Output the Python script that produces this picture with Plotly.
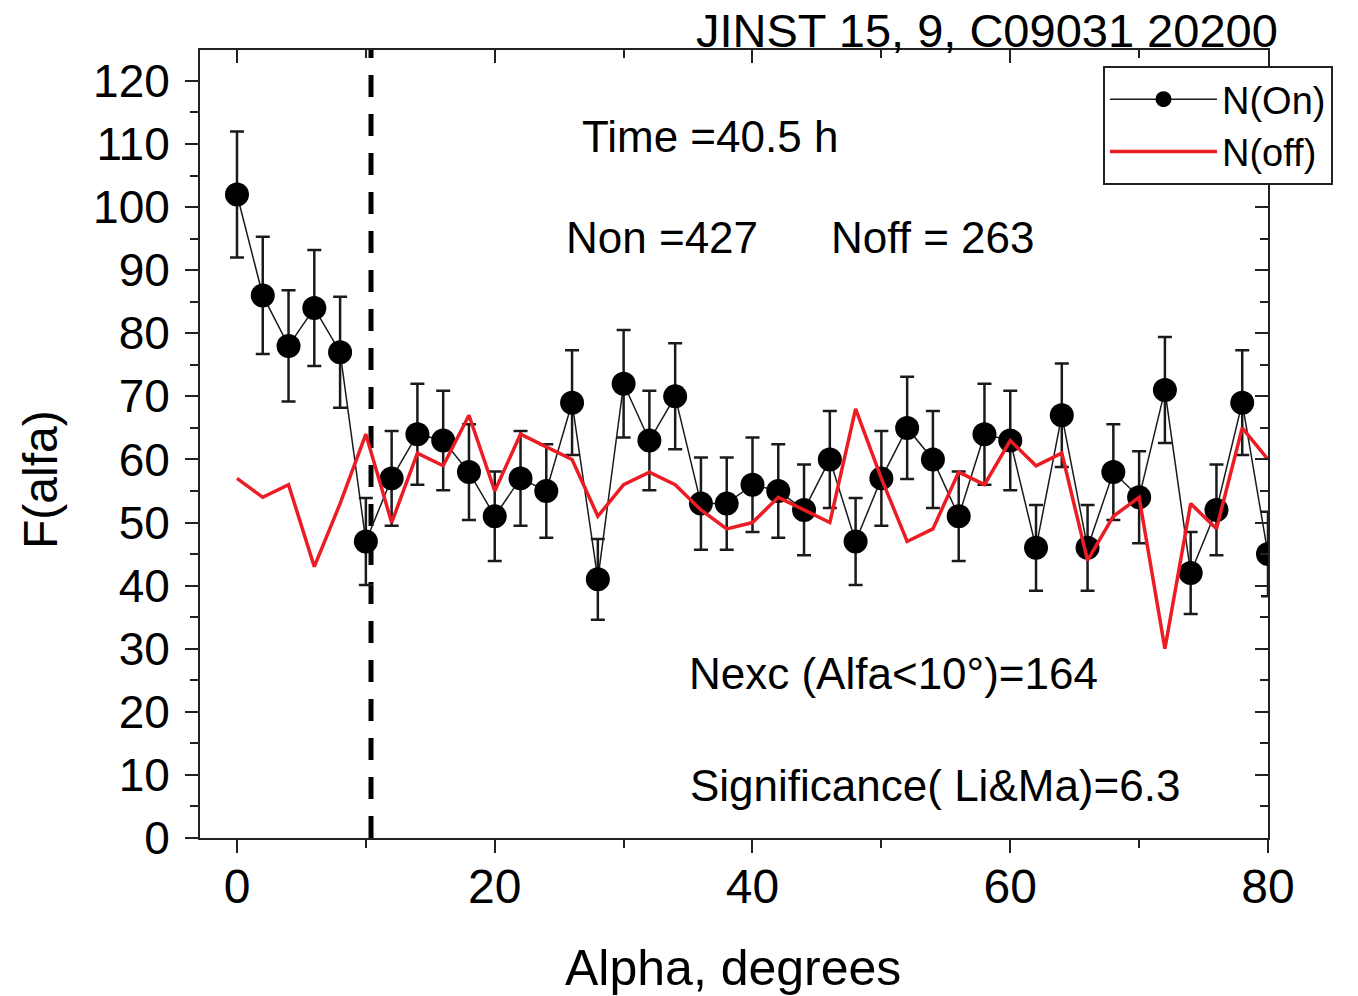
import plotly.graph_objects as go

# ---- data ----
alpha = [0, 2, 4, 6, 8, 10, 12, 14, 16, 18, 20, 22, 24, 26, 28, 30, 32, 34, 36, 38, 40,
         42, 44, 46, 48, 50, 52, 54, 56, 58, 60, 62, 64, 66, 68, 70, 72, 74, 76, 78, 80]

n_on = [102, 86, 78, 84, 77, 47, 57, 64, 63, 58, 51, 57, 55, 69, 41, 72, 63, 70, 53, 53, 56,
        55, 52, 60, 47, 57, 65, 60, 51, 64, 63, 46, 67, 46, 58, 54, 71, 42, 52, 69, 45]

n_on_err = [10, 9.3, 8.8, 9.2, 8.8, 6.9, 7.5, 8, 7.9, 7.6, 7.1, 7.5, 7.4, 8.3, 6.4, 8.5, 7.9, 8.4, 7.3, 7.3, 7.5,
            7.4, 7.2, 7.7, 6.9, 7.5, 8.1, 7.7, 7.1, 8, 7.9, 6.8, 8.2, 6.8, 7.6, 7.3, 8.4, 6.5, 7.2, 8.3, 6.7]

n_off = [57, 54, 56, 43, 53, 64, 50, 61, 59, 67, 55, 64, 62, 60, 51, 56, 58, 56, 52, 49, 50,
         54, 52, 50, 68, 57, 47, 49, 58, 56, 63, 59, 61, 44, 51, 54, 30, 53, 49, 65, 60]

cut_alpha = 10.4

x_range = [-2.87, 80]
y_range = [0, 124.9]

x_ticks = [0, 20, 40, 60, 80]
x_minor_ticks = [10, 30, 50, 70]
y_ticks = [0, 10, 20, 30, 40, 50, 60, 70, 80, 90, 100, 110, 120]

FONT = "Liberation Sans, Arial, sans-serif"
AXC = "#222222"

fig = go.Figure()

fig.add_trace(go.Scatter(
    x=alpha, y=n_on, name="N(On)", mode="lines+markers",
    line=dict(color="#1a1a1a", width=1.5),
    marker=dict(color="black", size=24, symbol="circle"),
    error_y=dict(type="data", array=n_on_err, visible=True, color="#1a1a1a", thickness=2.5, width=7),
))

fig.add_trace(go.Scatter(
    x=alpha, y=n_off, name="N(off)", mode="lines",
    line=dict(color="rgb(236,28,36)", width=3.5),
))

# dummy trace so the mirrored (inside-tick) axes are drawn
fig.add_trace(go.Scatter(x=[None], y=[None], xaxis="x2", yaxis="y2",
                         showlegend=False, hoverinfo="skip"))

fig.add_shape(type="line", xref="x", yref="paper", x0=cut_alpha, x1=cut_alpha, y0=0, y1=1,
              line=dict(color="black", width=5, dash="22px,17px"), layer="below")

axis_line = dict(showline=True, linecolor=AXC, linewidth=2, showgrid=False, zeroline=False)

fig.update_layout(
    width=1358, height=996,
    margin=dict(l=200, r=90, t=50, b=158),
    paper_bgcolor="white", plot_bgcolor="white",
    font=dict(family=FONT, color="black"),
    xaxis=dict(range=x_range, tickvals=x_ticks, ticks="outside", ticklen=13, tickwidth=2,
               tickcolor=AXC, tickfont=dict(size=48, family=FONT), ticklabelstandoff=-8,
               minor=dict(tickvals=x_minor_ticks, ticks="outside", ticklen=8, tickwidth=2, tickcolor=AXC),
               **axis_line),
    yaxis=dict(range=y_range, tickvals=y_ticks, ticks="outside", ticklen=13, tickwidth=2,
               tickcolor=AXC, tickfont=dict(size=46, family=FONT), ticklabelstandoff=6,
               minor=dict(dtick=5, tick0=0, ticks="outside", ticklen=8, tickwidth=2, tickcolor=AXC),
               **axis_line),
    xaxis2=dict(range=x_range, overlaying="x", side="top", anchor="y2", matches="x",
                tickvals=x_ticks, ticks="inside", ticklen=13, tickwidth=2, tickcolor=AXC,
                showticklabels=False,
                minor=dict(tickvals=x_minor_ticks, ticks="inside", ticklen=8, tickwidth=2, tickcolor=AXC),
                **axis_line),
    yaxis2=dict(range=y_range, overlaying="y", side="right", anchor="x2", matches="y",
                tickvals=y_ticks, ticks="inside", ticklen=13, tickwidth=2, tickcolor=AXC,
                showticklabels=False,
                minor=dict(dtick=5, tick0=0, ticks="inside", ticklen=8, tickwidth=2, tickcolor=AXC),
                **axis_line),
    legend=dict(x=0.8455, y=0.9797, xanchor="left", yanchor="top",
                bgcolor="white", bordercolor=AXC, borderwidth=2,
                font=dict(size=38, family=FONT), itemwidth=107, tracegroupgap=0),
    showlegend=True,
)

texts = [
    ("JINST 15, 9, C09031 20200", 987, 30, 47),
    ("Time =40.5 h", 710, 136, 44),
    ("Non =427", 662, 237, 44),
    ("Noff = 263", 932, 237, 44),
    ("Nexc (Alfa<10°)=164", 893, 673, 44),
    ("Significance( Li&Ma)=6.3", 935, 785, 44),
    ("Alpha, degrees", 733, 968, 50),
]
for t, px, py, fs in texts:
    fig.add_annotation(text=t, xref="paper", yref="paper",
                       x=(px - 200) / 1068, y=(838 - py) / 788,
                       xanchor="center", yanchor="middle", showarrow=False,
                       font=dict(size=fs, family=FONT, color="black"))

fig.add_annotation(text="F(alfa)", xref="paper", yref="paper",
                   x=(40 - 200) / 1068, y=(838 - 480) / 788, textangle=-90,
                   xanchor="center", yanchor="middle", showarrow=False,
                   font=dict(size=48, family=FONT, color="black"))

fig.write_html("out.html", config={"displayModeBar": False},
               post_script="document.body.style.margin='0';document.body.style.overflow='hidden';")
